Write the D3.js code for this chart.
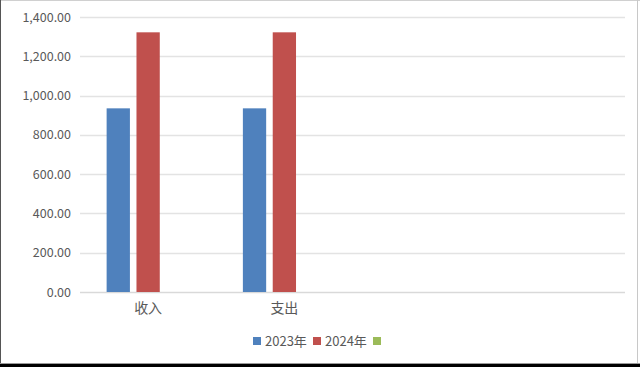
<!DOCTYPE html>
<html><head><meta charset="utf-8">
<script src="https://cdn.jsdelivr.net/npm/d3@7"></script>
<style>html,body{margin:0;padding:0;background:#fff;}svg{display:block;}</style>
</head><body>
<script>
const categories = ["收入", "支出", "", ""];
const seriesNames = ["2023年", "2024年", ""];
const values2023 = [935, 935, null, null];
const values2024 = [1322, 1322, null, null];
const valuesEmpty = [null, null, null, null];
const yTicks = [0, 200, 400, 600, 800, 1000, 1200, 1400];
const colors = ["#4f81bd", "#c0504d", "#9bbb59"];

(function(){
const W = 640, H = 367;
const svg = d3.select("body").append("svg").attr("width", W).attr("height", H);
const font = "'Microsoft YaHei','Noto Sans CJK SC','DejaVu Sans',sans-serif";

// frame
svg.append("rect").attr("x",0).attr("y",0).attr("width",W).attr("height",H).attr("fill","#fff");
svg.append("line").attr("x1",0).attr("x2",W).attr("y1",0.5).attr("y2",0.5).attr("stroke","#d0d0d0");
svg.append("line").attr("x1",0.5).attr("x2",0.5).attr("y1",0).attr("y2",364).attr("stroke","#555");
svg.append("line").attr("x1",637.5).attr("x2",637.5).attr("y1",0).attr("y2",364).attr("stroke","#c8c8c8");
svg.append("line").attr("x1",0).attr("x2",W).attr("y1",363.5).attr("y2",363.5).attr("stroke","#9a9a9a");
svg.append("rect").attr("x",0).attr("y",364).attr("width",W).attr("height",3).attr("fill","#000");

const pl = 80, pr = 625, pt = 17, pb = 292;
const y = d3.scaleLinear().domain([0, 1400]).range([pb, pt]);
const x = d3.scaleBand().domain(d3.range(categories.length)).range([pl, pr]).paddingInner(0).paddingOuter(0);
const inner = d3.scaleBand().domain(d3.range(seriesNames.length)).range([0, 83]).paddingInner(0.22);

// gridlines
svg.append("g").selectAll("line").data(yTicks).join("line")
  .attr("x1", pl).attr("x2", pr)
  .attr("y1", d => Math.round(y(d)) + 0.5).attr("y2", d => Math.round(y(d)) + 0.5)
  .attr("stroke", d => d === 0 ? "#d9d9d9" : "#e3e3e3").attr("stroke-width", 1.3);

// y axis labels
const yAxis = d3.axisLeft(y).tickValues(yTicks).tickSize(0).tickPadding(0)
  .tickFormat(d => d3.format(",.2f")(d));
const ga = svg.append("g").attr("transform", `translate(${71},0)`).call(yAxis);
ga.select(".domain").remove();
ga.selectAll("text").attr("font-family", font).attr("font-size", 12.5).attr("fill", "#595959");

// bars
const series = [values2023, values2024, valuesEmpty];
series.forEach((vals, si) => {
  svg.append("g").selectAll("rect").data(vals.map((v, i) => ({v, i})).filter(d => d.v != null)).join("rect")
    .attr("x", d => x(d.i) + (x.bandwidth() - 83) / 2 + inner(si))
    .attr("width", inner.bandwidth())
    .attr("y", d => y(d.v))
    .attr("height", d => y(0) - y(d.v))
    .attr("fill", colors[si]);
});

// category labels
const xAxis = d3.axisBottom(x).tickSize(0).tickPadding(0).tickFormat(i => categories[i]);
const gx = svg.append("g").attr("transform", `translate(0,${303})`).call(xAxis);
gx.select(".domain").remove();
gx.selectAll("text").attr("font-family", font).attr("font-size", 14).attr("fill", "#595959");

// legend
const legendItems = [
  {name: seriesNames[0], color: colors[0], x: 253},
  {name: seriesNames[1], color: colors[1], x: 313},
  {name: seriesNames[2], color: colors[2], x: 373}
];
const lg = svg.append("g");
legendItems.forEach(it => {
  lg.append("rect").attr("x", it.x).attr("y", 337).attr("width", 8).attr("height", 8).attr("fill", it.color);
  if (it.name) lg.append("text").attr("x", it.x + 12).attr("y", 346)
    .attr("font-family", font).attr("font-size", 13).attr("fill", "#595959").text(it.name);
});
})();
</script>
</body></html>
